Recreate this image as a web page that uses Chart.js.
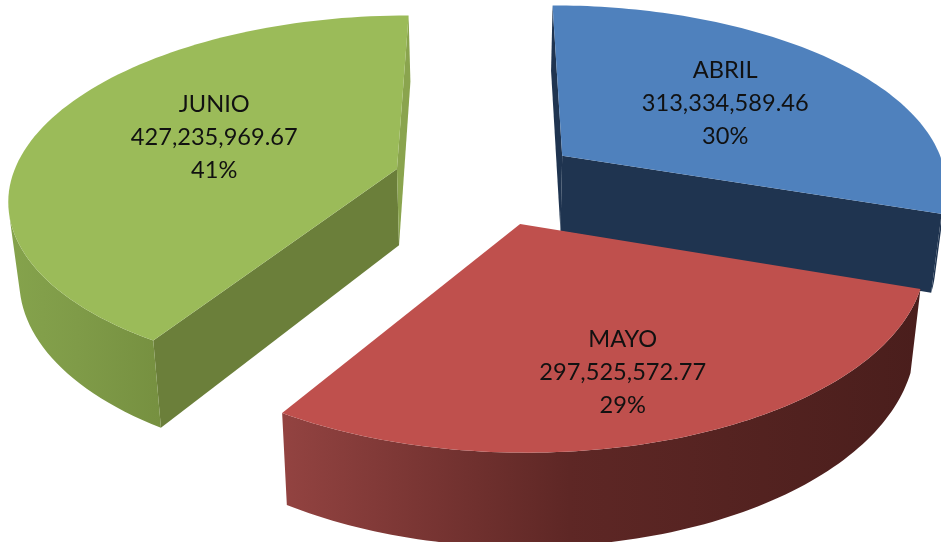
<!DOCTYPE html>
<html>
<head>
<meta charset="utf-8">
<title>Ventas por mes</title>
<script src="https://cdn.jsdelivr.net/npm/chart.js@4/dist/chart.umd.min.js"></script>
<style>
    html, body { margin: 0; padding: 0; background: #fff; }
    canvas { display: block; }
</style>
</head>
<body>
<canvas id="grafico" width="941" height="542"></canvas>
<script>
const meses = ["ABRIL", "MAYO", "JUNIO"];
const valores = [313334589.46, 297525572.77, 427235969.67];

const colorTapa = ["#4f81bd", "#bf504d", "#9bbb59"];
const colorCorteInicio = ["#1f3450", "#4a1e1c", "#6b7f3a"];
const colorCorteFin = ["#1f3450", "#4a1e1c", "#8aa44e"];
const paredIzq = ["#1f3450", "#934341", "#85a34c"];
const paredMedio = ["#1f3450", "#5e2725", "#7f9b48"];
const paredDer = ["#1f3450", "#4a1e1c", "#769040"];
const distEtiqueta = [0.565, 0.72, 0.55];
const ajusteX = [1, -10, 13];
const ajusteY = [2, 2, -6];

// perspectiva del disco: centro, radios, fuga, grosor
const vista = { cx: 487, cy: 181, a: 386, b: 180, p: 0.15, grosor: 77, k: 0.023, separacion: 0.245 };

function proyectar(u, v, z) {
    const w = 1 - vista.p * v;
    return {
        x: vista.cx + (vista.a * u / w) * (1 - vista.k * z),
        y: vista.cy + vista.b * v / w + vista.grosor * z / w
    };
}

function areaCara(puntos) {
    let area = 0;
    puntos.forEach((p, i) => {
        const q = puntos[(i + 1) % puntos.length];
        area += p.x * q.y - q.x * p.y;
    });
    return area;
}

function rellenar(ctx, puntos, color) {
    ctx.beginPath();
    puntos.forEach((p, i) => i ? ctx.lineTo(p.x, p.y) : ctx.moveTo(p.x, p.y));
    ctx.closePath();
    ctx.fillStyle = color;
    ctx.fill();
}

function dibujarPorcion(ctx, arco, i) {
    const medio = (arco.startAngle + arco.endAngle) / 2;
    const ox = Math.cos(medio) * vista.separacion;
    const oy = Math.sin(medio) * vista.separacion;
    const borde = (ang, z) => proyectar(ox + Math.cos(ang), oy + Math.sin(ang), z);
    const centro = z => proyectar(ox, oy, z);
    const pasos = 90;
    const ang = n => arco.startAngle + (arco.endAngle - arco.startAngle) * n / pasos;

    // las caras traseras (area positiva) no se dibujan
    const corteA = [centro(0), borde(arco.startAngle, 0), borde(arco.startAngle, 1), centro(1)];
    const corteB = [borde(arco.endAngle, 0), centro(0), centro(1), borde(arco.endAngle, 1)];
    if (areaCara(corteA) < 0) rellenar(ctx, corteA, colorCorteInicio[i]);
    if (areaCara(corteB) < 0) rellenar(ctx, corteB, colorCorteFin[i]);

    const arriba = [], abajo = [];
    for (let n = 0; n < pasos; n++) {
        const tira = [borde(ang(n), 0), borde(ang(n + 1), 0), borde(ang(n + 1), 1), borde(ang(n), 1)];
        if (areaCara(tira) >= 0) continue;
        if (!arriba.length) { arriba.push(tira[0]); abajo.push(tira[3]); }
        arriba.push(tira[1]);
        abajo.push(tira[2]);
    }
    if (arriba.length) {
        const xs = abajo.map(p => p.x).concat(arriba.map(p => p.x));
        const degradado = ctx.createLinearGradient(Math.min(...xs), 0, Math.max(...xs), 0);
        degradado.addColorStop(0, paredIzq[i]);
        degradado.addColorStop(0.45, paredMedio[i]);
        degradado.addColorStop(1, paredDer[i]);
        rellenar(ctx, arriba.concat(abajo.reverse()), degradado);
    }

    const tapa = [centro(0)];
    for (let n = 0; n <= pasos; n++) tapa.push(borde(ang(n), 0));
    rellenar(ctx, tapa, colorTapa[i]);
}

function dibujarEtiqueta(ctx, arco, i, total) {
    const medio = (arco.startAngle + arco.endAngle) / 2;
    const f = distEtiqueta[i] + vista.separacion;
    const c = proyectar(Math.cos(medio) * f, Math.sin(medio) * f, 0);
    const lineas = [
        meses[i],
        valores[i].toLocaleString("en-US", { minimumFractionDigits: 2 }),
        Math.round(valores[i] / total * 100) + "%"
    ];
    ctx.font = "23.6px Lato";
    ctx.fillStyle = "#111";
    ctx.textAlign = "center";
    ctx.textBaseline = "middle";
    lineas.forEach((t, j) => ctx.fillText(t, c.x + ajusteX[i], c.y + ajusteY[i] + (j - 1) * 33));
}

const pie3d = {
    id: "pie3d",
    beforeDatasetDraw(chart, args) {
        const ctx = chart.ctx;
        const arcos = chart.getDatasetMeta(args.index).data;
        const total = valores.reduce((a, b) => a + b, 0);
        ctx.save();
        [0, 2, 1].forEach(i => dibujarPorcion(ctx, arcos[i], i));
        arcos.forEach((arco, i) => dibujarEtiqueta(ctx, arco, i, total));
        ctx.restore();
        return false;
    }
};

new Chart(document.getElementById("grafico"), {
    type: "pie",
    data: {
        labels: meses,
        datasets: [{ data: valores, backgroundColor: colorTapa }]
    },
    options: {
        responsive: false,
        animation: false,
        plugins: { legend: { display: false }, tooltip: { enabled: false } }
    },
    plugins: [pie3d]
});
</script>
</body>
</html>
